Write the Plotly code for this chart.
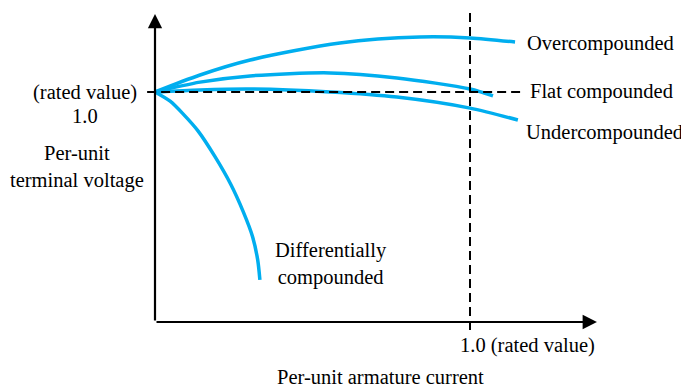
import plotly.graph_objects as go

# Curve data (per-unit armature current, per-unit terminal voltage)
over_x = [0, 0.143, 0.302, 0.587, 0.841, 1.0, 1.143]
over_y = [1.0, 1.074, 1.139, 1.213, 1.239, 1.235, 1.217]

flat_x = [0, 0.143, 0.302, 0.556, 0.768, 1.0, 1.073]
flat_y = [1.0, 1.043, 1.070, 1.083, 1.061, 1.013, 0.983]

under_x = [0, 0.143, 0.302, 0.556, 0.768, 1.0, 1.152]
under_y = [1.0, 1.009, 1.013, 1.0, 0.978, 0.930, 0.878]

diff_x = [0, 0.048, 0.089, 0.137, 0.19, 0.24, 0.28, 0.31, 0.326, 0.333]
diff_y = [1.0, 0.96, 0.905, 0.83, 0.72, 0.6, 0.48, 0.37, 0.27, 0.183]

rated = 1.0
blue = '#00AEEF'
font = dict(family='Liberation Serif, Times New Roman, serif', size=20.5, color='black')

fig = go.Figure()
for xs, ys in [(over_x, over_y), (flat_x, flat_y), (under_x, under_y), (diff_x, diff_y)]:
    fig.add_trace(go.Scatter(x=xs, y=ys, mode='lines',
                             line=dict(color=blue, width=3.5, shape='spline', smoothing=0.8),
                             showlegend=False, hoverinfo='skip'))

# dashed rated lines
fig.add_trace(go.Scatter(x=[-0.025, 1.159], y=[rated, rated], mode='lines',
                         line=dict(color='black', width=2, dash='9px,5px'),
                         showlegend=False, hoverinfo='skip'))
fig.add_trace(go.Scatter(x=[rated, rated], y=[-0.035, 1.357], mode='lines',
                         line=dict(color='black', width=2, dash='9px,5px'),
                         showlegend=False, hoverinfo='skip'))

# axes with arrows
for tip, tail in [((1.403, 0), (0, 0)), ((0, 1.339), (0, 0))]:
    fig.add_annotation(x=tip[0], y=tip[1], ax=tail[0], ay=tail[1],
                       xref='x', yref='y', axref='x', ayref='y',
                       text='', showarrow=True, arrowhead=2, arrowsize=1.3,
                       arrowwidth=2.2, arrowcolor='black', standoff=0, startstandoff=0)

labels = [
    ('(rated value)', -0.222, 1.0, 'center'),
    ('1.0', -0.222, 0.896, 'center'),
    ('Per-unit<br>terminal voltage', -0.248, 0.674, 'center'),
    ('Overcompounded', 1.175, 1.213, 'left'),
    ('Flat compounded', 1.185, 1.004, 'left'),
    ('Undercompounded', 1.172, 0.826, 'left'),
    ('Differentially<br>compounded', 0.559, 0.252, 'center'),
    ('1.0 (rated value)', 0.962, -0.10, 'left'),
    ('Per-unit armature current', 0.717, -0.238, 'center'),
]
for text, x, y, anchor in labels:
    fig.add_annotation(x=x, y=y, xref='x', yref='y', text=text, showarrow=False,
                       xanchor=anchor, yanchor='middle', align='center', font=font)

# page body has an 8px margin, so the figure is shrunk and shifted by that amount
off = 8
fig.update_layout(
    width=689 - off, height=388 - off,
    margin=dict(l=0, r=0, t=0, b=0),
    plot_bgcolor='white', paper_bgcolor='white',
    xaxis=dict(range=[(off - 155) / 315, (689 - 155) / 315], visible=False, fixedrange=True),
    yaxis=dict(range=[(322 - 388) / 230, (322 - off) / 230], visible=False, fixedrange=True),
    showlegend=False,
)
fig.write_html("out.html")
